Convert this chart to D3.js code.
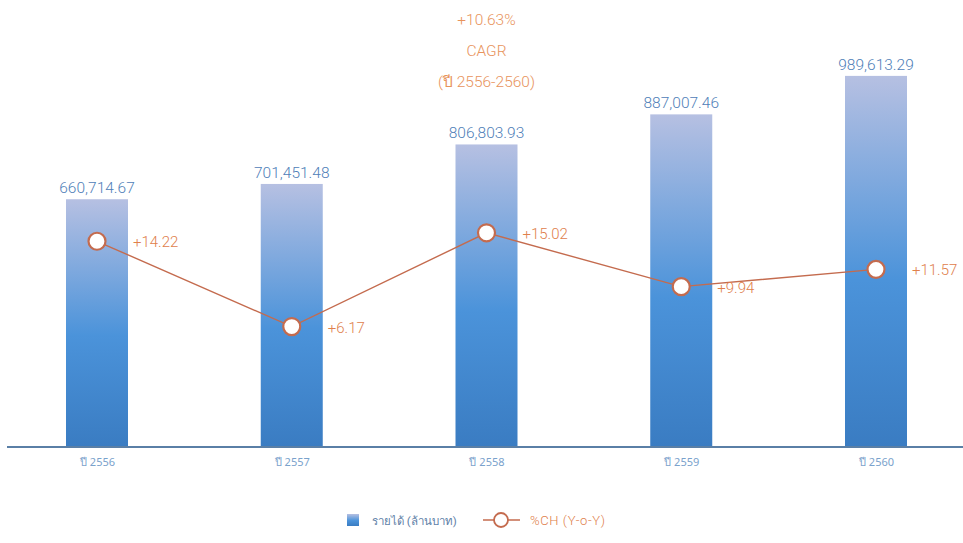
<!DOCTYPE html>
<html><head><meta charset="utf-8">
<script src="https://cdn.jsdelivr.net/npm/d3@7"></script>
<style>
html,body{margin:0;padding:0;background:#fff;}
svg{display:block;font-family:Roboto,"Noto Sans","DejaVu Sans",sans-serif;}
</style></head>
<body>
<svg id="chart" width="963" height="543"></svg>
<script>
const categories = ["ปี 2556","ปี 2557","ปี 2558","ปี 2559","ปี 2560"];
const revenue = [660714.67, 701451.48, 806803.93, 887007.46, 989613.29];
const revenueLabels = ["660,714.67","701,451.48","806,803.93","887,007.46","989,613.29"];
const growth = [14.22, 6.17, 15.02, 9.94, 11.57];
const growthLabels = ["+14.22","+6.17","+15.02","+9.94","+11.57"];
const cagrLines = ["+10.63%","CAGR","(ปี 2556-2560)"];
const legendLabels = ["รายได้ (ล้านบาท)","%CH (Y-o-Y)"];

const svg = d3.select("#chart");
const W = 963, H = 543;
const baseY = 447;

const defs = svg.append("defs");
const grad = defs.append("linearGradient").attr("id","barGrad")
  .attr("x1",0).attr("y1",0).attr("x2",0).attr("y2",1);
grad.append("stop").attr("offset","0%").attr("stop-color","#b6c0e2");
grad.append("stop").attr("offset","55%").attr("stop-color","#4b93da");
grad.append("stop").attr("offset","100%").attr("stop-color","#3a7cc2");

const x = d3.scalePoint().domain(categories).range([97, 876]);
const yBar = d3.scaleLinear().domain([0, 1000000]).range([baseY, 72]);
const yLine = d3.scaleLinear().domain([0, 20]).range([392, 180]);
const bw = 62;

// bars
svg.append("g").selectAll("rect").data(revenue).join("rect")
  .attr("x",(d,i)=>x(categories[i]) - bw/2)
  .attr("y",d=>yBar(d))
  .attr("width",bw)
  .attr("height",d=>baseY - yBar(d))
  .attr("fill","url(#barGrad)");

// bar value labels
svg.append("g").selectAll("text").data(revenue).join("text")
  .attr("x",(d,i)=>x(categories[i]))
  .attr("y",d=>yBar(d) - 6)
  .attr("text-anchor","middle")
  .attr("font-size",15.5)
  .attr("font-weight",300)
  .attr("fill","#4f80b8")
  .text((d,i)=>revenueLabels[i]);

// axis
const axis = d3.axisBottom(x).tickSize(0).tickPadding(11);
const gx = svg.append("g").attr("transform",`translate(0,${baseY})`).call(axis);
gx.select(".domain").remove();
gx.append("line").attr("x1",7).attr("x2",W).attr("y1",0).attr("y2",0)
  .attr("stroke","#5a7fa6").attr("stroke-width",2);
gx.selectAll(".tick text").attr("font-size",11).attr("fill","#7aa2cc")
  .attr("font-family","'Noto Sans','DejaVu Sans',sans-serif");

// line
const line = d3.line().x((d,i)=>x(categories[i])).y(d=>yLine(d));
svg.append("path").datum(growth).attr("d",line)
  .attr("fill","none").attr("stroke","#c46b4e").attr("stroke-width",1.4);
svg.append("g").selectAll("circle").data(growth).join("circle")
  .attr("cx",(d,i)=>x(categories[i])).attr("cy",d=>yLine(d)).attr("r",8.5)
  .attr("fill","#fff").attr("stroke","#c46b4e").attr("stroke-width",2.2);
svg.append("g").selectAll("text").data(growth).join("text")
  .attr("x",(d,i)=>x(categories[i]) + 36)
  .attr("y",d=>yLine(d) + 6)
  .attr("font-size",15)
  .attr("font-weight",300)
  .attr("fill","#e0804c")
  .text((d,i)=>growthLabels[i]);

// CAGR annotation
svg.append("g").selectAll("text").data(cagrLines).join("text")
  .attr("x",x(categories[2]))
  .attr("y",(d,i)=>25 + i*31)
  .attr("text-anchor","middle")
  .attr("font-size",15.5)
  .attr("font-weight",300)
  .attr("fill","#e8935c")
  .text(d=>d);

// legend
const lg = svg.append("g");
lg.append("rect").attr("x",347).attr("y",514).attr("width",12).attr("height",12)
  .attr("fill","url(#barGrad)");
lg.append("text").attr("x",372).attr("y",525).attr("font-size",11.5)
  .attr("fill","#5f7fa8").text(legendLabels[0]);
lg.append("line").attr("x1",483).attr("x2",520).attr("y1",520).attr("y2",520)
  .attr("stroke","#c46b4e").attr("stroke-width",1.6);
lg.append("circle").attr("cx",501).attr("cy",520).attr("r",7)
  .attr("fill","#fff").attr("stroke","#c46b4e").attr("stroke-width",1.8);
lg.append("text").attr("x",530).attr("y",525).attr("font-size",13)
  .attr("font-weight",300)
  .attr("letter-spacing",0.6)
  .attr("fill","#e0804c").text(legendLabels[1]);
</script>
</body></html>
